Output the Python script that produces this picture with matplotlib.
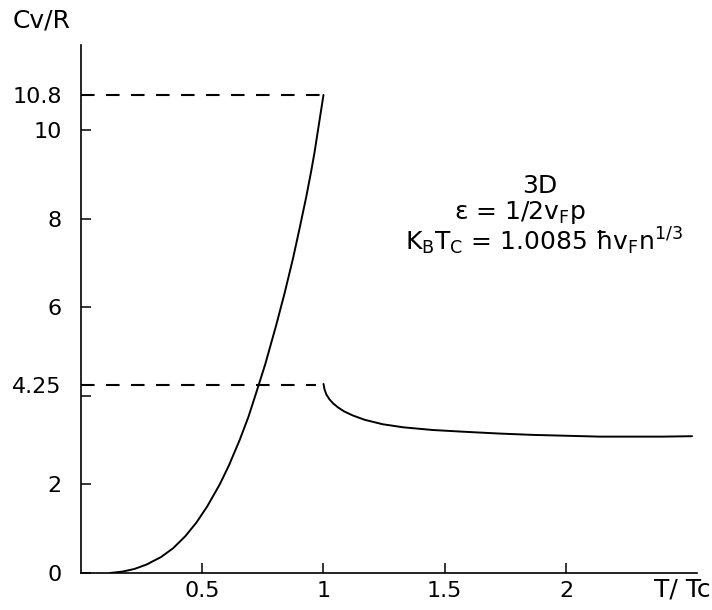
import matplotlib
matplotlib.use("Agg")
import matplotlib.pyplot as plt

# values
t_below = [0.12, 0.17, 0.22, 0.27, 0.33, 0.38, 0.43, 0.476, 0.52, 0.572, 0.61,
           0.654, 0.69, 0.723, 0.76, 0.805, 0.84, 0.874, 0.90, 0.929, 0.95, 0.963, 0.98, 1.0]
cv_below = [0.0, 0.03, 0.09, 0.19, 0.36, 0.56, 0.83, 1.14, 1.50, 2.00, 2.43,
            3.00, 3.52, 4.08, 4.72, 5.60, 6.33, 7.10, 7.75, 8.50, 9.10, 9.50, 10.10, 10.80]
t_above = [1.0, 1.004, 1.012, 1.025, 1.04, 1.06, 1.085, 1.12, 1.17, 1.244, 1.33, 1.45,
           1.58, 1.724, 1.86, 2.0, 2.14, 2.27, 2.40, 2.52]
cv_above = [4.27, 4.15, 4.03, 3.92, 3.83, 3.74, 3.65, 3.56, 3.46, 3.36, 3.29, 3.23,
            3.19, 3.15, 3.12, 3.10, 3.08, 3.08, 3.08, 3.09]

peak_cv = 10.8
jump_cv = 4.25
ytick_vals = [0, 2, 4, 4.25, 6, 8, 10, 10.8]
ytick_labels = ["0", "2", "", "4.25", "6", "8", "10", "10.8"]
xtick_vals = [0.5, 1, 1.5, 2]
xtick_labels = ["0.5", "1", "1.5", "2"]

fig = plt.figure(figsize=(7.12, 6.10), dpi=100)
ax = fig.add_axes([0.1138, 0.0607, 0.865, 0.865])

ax.plot(t_below, cv_below, color="black", lw=1.4, solid_capstyle="round", solid_joinstyle="round")
ax.plot(t_above, cv_above, color="black", lw=1.4, solid_capstyle="round", solid_joinstyle="round")

ax.plot([0, 1.0], [peak_cv, peak_cv], color="black", lw=1.5, dashes=(6.5, 5.5))
ax.plot([0, 0.97], [jump_cv, jump_cv], color="black", lw=1.5, dashes=(6.5, 5.5))

ax.set_xlim(0, 2.54)
ax.set_ylim(0, 11.92)

for s in ["top", "right"]:
    ax.spines[s].set_visible(False)
for s in ["left", "bottom"]:
    ax.spines[s].set_linewidth(1.2)

ax.set_yticks(ytick_vals)
ax.set_yticklabels(ytick_labels)
ax.set_xticks(xtick_vals)
ax.set_xticklabels(xtick_labels)
ax.tick_params(axis="y", direction="in", length=7, width=1.1, pad=14, labelsize=16)
ax.tick_params(axis="x", direction="in", length=7, width=1.1, pad=6, labelsize=16)

fig.text(0.058, 0.966, "Cv/R", fontsize=18, ha="center", va="center")
fig.text(0.998, 0.033, "T/ Tc", fontsize=18, ha="right", va="center")

ax.text(1.89, 8.75, "3D", fontsize=18, ha="center", va="center")
ax.text(1.81, 8.15, r"ε = 1/2v$_\mathregular{F}$p", fontsize=18, ha="center", va="center")
ax.text(1.91, 7.5, r"K$_\mathregular{B}$T$_\mathregular{C}$ = 1.0085 ħv$_\mathregular{F}$n$^\mathregular{1/3}$",
        fontsize=18, ha="center", va="center")

fig.savefig("out.png", dpi=100)
